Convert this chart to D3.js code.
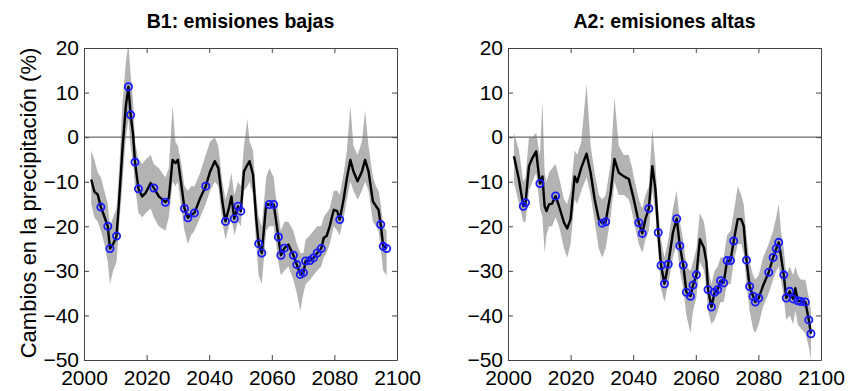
<!DOCTYPE html>
<html><head><meta charset="utf-8">
<script src="https://cdn.jsdelivr.net/npm/d3@7"></script>
<style>body{margin:0;background:#fff} text{font-family:Arial,"Liberation Sans",sans-serif}</style>
</head><body><svg id="c" width="854" height="391"></svg>
<script>
// ---- Data: B1 (low emissions) ----
const yearsB1=[2002.3,2003.3,2004.4,2005.4,2006.5,2007.6,2008.3,2009.3,2010.4,2011.2,2012.3,2013.4,2014.2,2014.9,2015.7,2016.3,2017.4,2018.6,2019.7,2021.3,2022.3,2023.9,2026.0,2027.1,2028.3,2029.2,2030.0,2031.1,2032.1,2033.2,2034.2,2035.3,2037.1,2038.9,2040.3,2041.8,2042.9,2044.2,2045.2,2046.3,2047.1,2048.0,2049.2,2050.1,2051.1,2052.2,2052.9,2054.0,2055.0,2055.8,2056.8,2058.2,2059.2,2060.6,2061.4,2062.1,2062.9,2064.0,2065.3,2066.9,2068.0,2069.1,2070.1,2070.8,2072.2,2073.3,2074.5,2075.8,2076.6,2077.5,2078.5,2079.8,2080.9,2081.7,2083.0,2084.0,2085.1,2086.1,2087.4,2088.8,2089.8,2090.9,2092.3,2093.3,2094.1,2094.8,2095.6,2096.7];
const valB1=[-9.5,-12.2,-12.9,-15.7,-17.8,-20,-25,-24,-22.2,-14.4,-2.5,7.2,11.3,5,0.5,-5.6,-11.6,-13.3,-12.5,-10.3,-11.4,-13.3,-14.6,-13.7,-5.1,-5.8,-5.1,-10.7,-16,-18.1,-17.4,-17,-13.7,-11,-7.7,-5.4,-6.9,-14.4,-18.9,-15.9,-13.3,-18.3,-15.5,-16.6,-7.7,-6.2,-5.4,-8.4,-18.1,-23.9,-26,-15.1,-15.1,-15.1,-18.9,-22.4,-26.5,-24.9,-24.1,-26.5,-28.6,-30.8,-30.4,-27.8,-27.7,-27.1,-26,-25,-22.6,-22.2,-20,-16.3,-16.6,-18.5,-13.7,-9.2,-5.1,-7.7,-9.9,-7.7,-5.1,-7.7,-14.4,-15.5,-16.3,-19.6,-24.5,-25];
const loB1=[-15,-18,-19,-21,-24,-28,-33,-30,-28,-20,-10,0,4,-2,-6,-11,-17,-18,-17,-16,-18,-20,-21,-18,-10,-11,-10,-16,-21,-24,-22,-21,-18,-15,-12,-10,-11,-19,-23,-20,-18,-22,-19,-20,-12,-11,-10,-13,-24,-31,-33,-21,-20,-20,-24,-28,-31,-30,-29,-32,-35,-39,-35,-33,-32,-31,-30,-29,-27,-26,-24,-20,-21,-22,-18,-14,-10,-12,-14,-12,-10,-12,-19,-20,-21,-25,-30,-31];
const hiB1=[-3,-5,-8,-9,-12,-15,-20,-18,-16,-8,8,17,21,14,8,-1,-5,-6,-5,-4,-6,-7,-9,-7,7,-1,-2,-6,-11,-12,-11,-11,-8,-4,-1,0,-2,-10,-14,-11,-8,-13,-10,-11,-2,4,-1,-3,-13,-18,-20,-9,-7,-9,-14,-17,-21,-19,-19,-21,-24,-26,-26,-23,-22,-21,-20,-20,-18,-17,-16,-12,-12,-13,-8,-3,7,-2,-4,-1,6,-2,-9,-11,-12,-15,-20,-21];
const sigB1=[0,0,0,1,0,1,1,0,1,0,0,0,1,1,0,1,1,0,0,0,1,0,1,0,0,0,0,0,1,1,0,1,0,1,0,0,0,0,1,0,0,1,1,1,0,0,0,0,0,1,1,0,1,1,0,1,1,1,0,1,1,1,1,1,1,1,1,1,0,0,0,0,0,1,0,0,0,0,0,0,0,0,0,0,0,1,1,1];

// ---- Data: A2 (high emissions) ----
const yearsA2=[2001.9,2003.5,2004.9,2005.6,2006.7,2007.8,2009.0,2009.9,2010.2,2011.0,2011.7,2012.3,2013.1,2014.1,2015.2,2016.3,2017.9,2018.9,2020.0,2021.3,2022.1,2023.4,2025.1,2026.4,2027.7,2029.0,2030.1,2031.2,2032.8,2034.0,2035.4,2037.0,2038.6,2039.7,2040.2,2041.8,2042.9,2043.9,2045.0,2046.1,2047.1,2048.0,2048.9,2050.0,2051.2,2052.7,2053.9,2054.9,2056.0,2057.0,2058.3,2059.1,2060.2,2061.3,2062.6,2063.4,2063.9,2065.0,2066.0,2067.0,2067.9,2068.9,2070.0,2071.1,2072.1,2073.4,2074.5,2075.3,2076.2,2077.2,2078.3,2079.0,2080.1,2081.5,2083.3,2084.7,2085.7,2086.5,2087.2,2088.1,2088.9,2090.0,2091.1,2091.8,2092.6,2093.6,2095.0,2096.1,2096.8];
const valA2=[-4.3,-9.5,-15.5,-14.7,-6.5,-4.7,-3.2,-8.8,-10.4,-8.8,-15.5,-16.6,-15.1,-14.9,-13.2,-15.5,-19.2,-20.5,-18.4,-8.8,-10.1,-6.9,-3.7,-8,-14,-18.4,-19.3,-19,-12.5,-4.9,-8,-8.8,-9.4,-12.5,-14,-19.2,-21.6,-18.4,-16,-6.5,-11.7,-21.4,-28.8,-32.9,-28.5,-21.4,-18.3,-24.4,-28.7,-34.8,-35.7,-33.2,-30.9,-22.9,-24.8,-28.1,-34.2,-38.1,-34.8,-34.2,-32.2,-32.7,-27.7,-27.7,-23.3,-18.4,-18.4,-19.9,-27.6,-33.5,-35.7,-37,-36.1,-33.3,-30.3,-27,-25,-23.6,-26.6,-30.9,-36.1,-34.6,-36.3,-33.9,-36.7,-36.9,-37,-41,-44.1];
const loA2=[-10,-15,-19,-19,-12,-10,-8,-14,-16,-18,-26,-22,-20,-20,-18,-20,-25,-27,-24,-14,-15,-12,-9,-13,-19,-25,-27,-25,-18,-10,-13,-13,-14,-17,-19,-24,-26,-23,-21,-12,-17,-26,-34,-37,-33,-27,-24,-30,-34,-40,-44,-39,-36,-28,-30,-34,-39,-42,-41,-39,-37,-37,-33,-33,-28,-24,-24,-26,-33,-39,-43,-44,-42,-38,-35,-32,-30,-29,-32,-36,-41,-40,-42,-39,-42,-43,-44,-47,-50];
const hiA2=[1,-3,-10,-9,0,0,1,-3,-4,8,-8,-10,-8,-7,-6,-9,-14,-15,-12,-3,-4,-1,12,-2,-8,-13,-14,-13,-6,9,-2,-4,-4,-7,-9,-14,-16,-13,-11,2,-6,-16,-23,-27,-23,-16,-12,-19,-23,-29,-30,-28,-25,-17,-19,-23,-29,-33,-30,-29,-27,-27,-22,-21,-17,-11,-13,-15,-22,-28,-31,-32,-31,-27,-24,-21,-18,-15,-21,-25,-31,-29,-31,-29,-31,-32,-32,-36,-39];
const sigA2=[0,0,1,1,0,0,0,0,1,0,0,0,0,0,1,0,0,0,0,0,0,0,0,0,0,0,1,1,0,0,0,0,0,0,0,1,1,0,1,0,0,1,1,1,1,0,1,1,1,1,1,1,1,0,0,0,1,1,1,1,1,1,1,1,1,0,0,0,1,1,1,1,1,0,1,1,1,1,0,1,1,1,1,0,1,1,1,1,1];

const xTicks=[2000,2020,2040,2060,2080,2100];
const yTicks=[20,10,0,-10,-20,-30,-40,-50];
const titles=["B1: emisiones bajas","A2: emisiones altas"];
const yLabel="Cambios en la precipitación (%)";

const svg=d3.select("#c");
const yTop=48,yBot=360;
const panels=[
  {x0:84,x1:397,title:titles[0],years:yearsB1,val:valB1,lo:loB1,hi:hiB1,sig:sigB1},
  {x0:508,x1:821,title:titles[1],years:yearsA2,val:valA2,lo:loA2,hi:hiA2,sig:sigA2}
];
const y=d3.scaleLinear().domain([-50,20]).range([yBot,yTop]);

panels.forEach((p,i)=>{
  const x=d3.scaleLinear().domain([2000,2100]).range([p.x0,p.x1]);
  const g=svg.append("g");
  const cid="clip"+i;
  svg.append("clipPath").attr("id",cid).append("rect")
    .attr("x",p.x0).attr("y",yTop).attr("width",p.x1-p.x0).attr("height",yBot-yTop);
  const pts=p.years.map((yr,k)=>({yr,v:p.val[k],lo:p.lo[k],hi:p.hi[k],s:p.sig[k]}));
  const pg=g.append("g").attr("clip-path",`url(#${cid})`);
  pg.append("path").datum(pts)
    .attr("d",d3.area().defined(d=>d.lo!=null&&d.hi!=null).x(d=>x(d.yr)).y0(d=>y(d.lo)).y1(d=>y(d.hi)))
    .attr("fill","#b3b3b3");
  pg.append("line").attr("x1",p.x0).attr("x2",p.x1).attr("y1",y(0)).attr("y2",y(0))
    .attr("stroke","#6e6e6e").attr("stroke-width",1.3);
  pg.append("path").datum(pts)
    .attr("d",d3.line().defined(d=>d.v!=null).x(d=>x(d.yr)).y(d=>y(d.v)))
    .attr("fill","none").attr("stroke","#000").attr("stroke-width",2.4).attr("stroke-linejoin","round");
  pg.selectAll("circle").data(pts.filter(d=>d.s&&d.v!=null)).join("circle")
    .attr("cx",d=>x(d.yr)).attr("cy",d=>y(d.v)).attr("r",3.6)
    .attr("fill","none").attr("stroke","#1a1aff").attr("stroke-width",1.8);

  const axStyle=fs=>sel=>{sel.selectAll("path.domain").attr("stroke","#444");
    sel.selectAll(".tick line").attr("stroke","#444");
    sel.selectAll("text").attr("font-size",fs).attr("fill","#000")};
  g.append("g").attr("transform",`translate(0,${yBot})`)
    .call(d3.axisBottom(x).tickValues(xTicks).tickFormat(d3.format("d")).tickSizeInner(-5).tickSizeOuter(0).tickPadding(10))
    .call(axStyle(21));
  g.append("g").attr("transform",`translate(0,${yTop})`)
    .call(d3.axisTop(x).tickValues(xTicks).tickFormat("").tickSizeInner(-5).tickSizeOuter(0))
    .call(axStyle(20));
  g.append("g").attr("transform",`translate(${p.x0},0)`)
    .call(d3.axisLeft(y).tickValues(yTicks).tickFormat(d3.format("d")).tickSizeInner(-5).tickSizeOuter(0).tickPadding(5))
    .call(axStyle(21));
  g.append("g").attr("transform",`translate(${p.x1},0)`)
    .call(d3.axisRight(y).tickValues(yTicks).tickFormat("").tickSizeInner(-5).tickSizeOuter(0))
    .call(axStyle(20));
  g.append("text").attr("x",(p.x0+p.x1)/2).attr("y",28).attr("text-anchor","middle")
    .attr("font-size",19.5).attr("font-weight","bold").text(p.title);
});
svg.append("text").attr("transform","translate(36,203) rotate(-90)")
  .attr("text-anchor","middle").attr("font-size",22).text(yLabel);
</script></body></html>
